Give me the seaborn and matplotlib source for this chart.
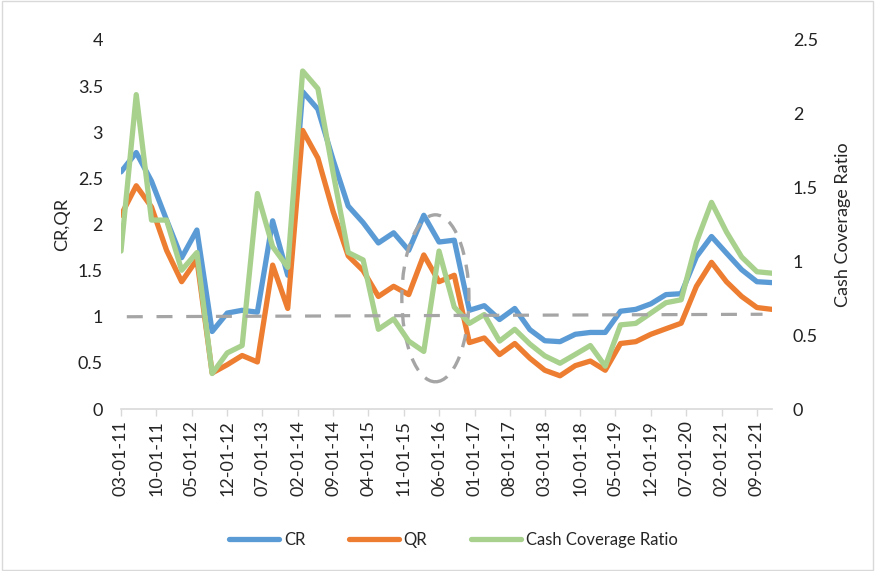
import matplotlib
matplotlib.use('Agg')
import matplotlib.pyplot as plt
import matplotlib.dates as mdates
from matplotlib.patches import Ellipse, Rectangle
from matplotlib.ticker import FuncFormatter
import seaborn as sns
import pandas as pd

# квартальные данные, март 2011 - декабрь 2021
dates = pd.date_range('2011-03-01', periods=44, freq='3MS')

cr = [2.57, 2.78, 2.47, 2.05, 1.64, 1.94, 0.84, 1.04, 1.07, 1.05,
      2.04, 1.45, 3.44, 3.25, 2.70, 2.20, 2.02, 1.80, 1.91, 1.72,
      2.10, 1.81, 1.83, 1.07, 1.12, 0.97, 1.09, 0.86, 0.74, 0.73,
      0.81, 0.83, 0.83, 1.06, 1.08, 1.14, 1.24, 1.25, 1.65, 1.87,
      1.69, 1.51, 1.38, 1.37]
qr = [2.10, 2.42, 2.19, 1.72, 1.38, 1.62, 0.39, 0.48, 0.58, 0.51,
      1.56, 1.09, 3.02, 2.72, 2.14, 1.66, 1.50, 1.22, 1.33, 1.24,
      1.67, 1.38, 1.45, 0.72, 0.77, 0.59, 0.71, 0.55, 0.42, 0.36,
      0.47, 0.52, 0.42, 0.71, 0.73, 0.81, 0.87, 0.93, 1.33, 1.59,
      1.38, 1.22, 1.10, 1.08]
ccr = [1.07, 2.13, 1.28, 1.28, 0.94, 1.06, 0.24, 0.38, 0.43, 1.46,
       1.10, 0.96, 2.29, 2.17, 1.60, 1.06, 1.01, 0.54, 0.61, 0.46,
       0.39, 1.07, 0.69, 0.58, 0.64, 0.46, 0.54, 0.44, 0.36, 0.31,
       0.37, 0.43, 0.29, 0.57, 0.58, 0.65, 0.72, 0.74, 1.13, 1.40,
       1.20, 1.03, 0.93, 0.92]

# пунктирная линия уровня 1 и овал-выделение
ref_dates = pd.to_datetime(['2011-04-05', '2021-10-05'])
ref_vals = [1.0, 1.027]
oval_center = pd.Timestamp('2016-05-10')
oval_days = 405
oval_y = 1.20
oval_h = 1.81

tick_dates = pd.date_range('2011-03-01', periods=19, freq='7MS')

c_cr, c_qr, c_ccr, c_ref = '#5B9BD5', '#ED7D31', '#A9D18E', '#A5A5A5'

sns.set_theme(style='white')
plt.rcParams['font.family'] = ['Lato', 'DejaVu Sans']

fig = plt.figure(figsize=(8.75, 5.71), dpi=100)
ax = fig.add_axes([121 / 875, 1 - 409 / 571, (772 - 121) / 875, (409 - 40) / 571])
ax2 = ax.twinx()

sns.lineplot(x=dates, y=cr, ax=ax, color=c_cr, linewidth=3.8, label='CR')
sns.lineplot(x=dates, y=qr, ax=ax, color=c_qr, linewidth=3.8, label='QR')
sns.lineplot(x=dates, y=ccr, ax=ax2, color=c_ccr, linewidth=3.8, label='Cash Coverage Ratio')

ax2.plot(ref_dates, ref_vals, color=c_ref, linewidth=2.3, dashes=(5, 4.3),
         transform=ax.transData)
oval = Ellipse((mdates.date2num(oval_center), oval_y), oval_days, oval_h,
               fill=False, edgecolor=c_ref, linewidth=2.4, linestyle=(0, (4, 3)),
               transform=ax.transData)
ax2.add_patch(oval)

ax.set_xlim(dates[0], dates[-1])
ax.set_ylim(0, 4)
ax2.set_ylim(0, 2.5)
ax.set_yticks([i * 0.5 for i in range(9)])
ax2.set_yticks([i * 0.5 for i in range(6)])
fmt = FuncFormatter(lambda v, p: f'{v:g}')
ax.yaxis.set_major_formatter(fmt)
ax2.yaxis.set_major_formatter(fmt)

ax.set_xticks(tick_dates)
ax.xaxis.set_major_formatter(mdates.DateFormatter('%m-%d-%y'))
ax.tick_params(axis='x', rotation=90, labelsize=13, length=5, width=1,
               color='#D9D9D9', direction='out', pad=3, bottom=True)
ax.tick_params(axis='y', labelsize=13, length=0, pad=13, labelcolor='#222222')
ax2.tick_params(axis='y', labelsize=13, length=0, pad=15, labelcolor='#222222')

for s in ['top', 'left', 'right']:
    ax.spines[s].set_visible(False)
ax.spines['bottom'].set_color('#D9D9D9')
ax.spines['bottom'].set_linewidth(1.2)
for s in ax2.spines.values():
    s.set_visible(False)

ax.set_ylabel('CR,QR', fontsize=13)
ax2.set_ylabel('Cash Coverage Ratio', fontsize=13)
ax.yaxis.set_label_coords(-0.078, 0.5)
ax2.yaxis.set_label_coords(1.097, 0.5)
ax.set_xlabel('')
ax.grid(False)
ax2.grid(False)

h1, l1 = ax.get_legend_handles_labels()
h2, l2 = ax2.get_legend_handles_labels()
ax.get_legend().remove()
ax2.get_legend().remove()
fig.legend(h1 + h2, l1 + l2, loc='center', bbox_to_anchor=(0.518, 0.054), ncol=3,
           frameon=False, fontsize=12, handlelength=3.0, handletextpad=0.3,
           columnspacing=2.6)

fig.patches.append(Rectangle((0.002, 0.002), 0.996, 0.996, transform=fig.transFigure,
                             fill=False, edgecolor='#D9D9D9', linewidth=1))

fig.savefig('out.png', dpi=100)
